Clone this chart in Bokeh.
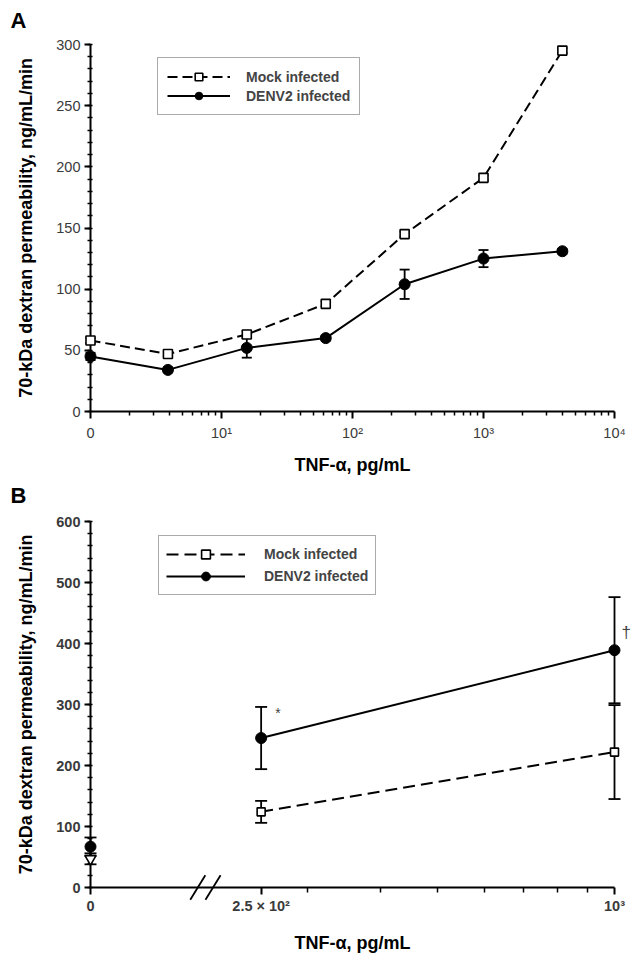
from bokeh.plotting import figure
from bokeh.layouts import column
from bokeh.models import FixedTicker, Legend, LegendItem, Range1d
from bokeh.embed import file_html
from bokeh.resources import INLINE
from bokeh.core.properties import value

# ---------------- Panel A data ----------------
a_dose = [0, 3.9, 15.6, 62.5, 250, 1000, 4000]
a_mock = [58, 47, 63, 88, 145, 191, 295]
a_mock_err = [2, 2, 3, 2, 2, 2, 2]
a_denv = [45, 34, 52, 60, 104, 125, 131]
a_denv_err = [3, 2, 8, 2, 12, 7, 2]
a_xticks = [1, 10, 100, 1000, 10000]
a_xtick_labels = ["0", "10¹", "10²", "10³", "10⁴"]
a_yticks = [0, 50, 100, 150, 200, 250, 300]

# ---------------- Panel B data ----------------
b_dose = [0, 250, 1000]
b_mock = [47, 124, 222]
b_mock_err = [9, 18, 77]
b_denv = [67, 245, 389]
b_denv_err = [15, 51, 87]
b_xtick_labels = ["0", "2.5 × 10²", "10³"]
b_yticks = [0, 100, 200, 300, 400, 500, 600]

# display positions for dose 0 on the log axes (axis is broken / relabelled)
ZERO_A = 1
ZERO_B = 128
B_BREAK = [195, 207]

FONT = "Liberation Sans"


def style(p):
    p.xgrid.visible = False
    p.ygrid.visible = False
    p.outline_line_color = None
    p.background_fill_color = "white"
    p.border_fill_color = "white"
    for ax in p.axis:
        ax.axis_line_width = 2
        ax.axis_line_color = "black"
        ax.major_tick_line_width = 2
        ax.minor_tick_line_width = 1.5
        ax.major_tick_line_color = "black"
        ax.minor_tick_line_color = "black"
        ax.major_label_text_font = FONT
        ax.major_label_text_font_size = "14.5px"
        ax.major_label_text_color = "#3a3a3a"
        ax.axis_label_text_font = FONT
        ax.axis_label_text_font_size = "18px"
        ax.axis_label_text_font_style = "bold"
        ax.axis_label_text_color = "black"


def errbars(p, x, y, e, cap):
    lo = [v - d for v, d in zip(y, e)]
    hi = [v + d for v, d in zip(y, e)]
    p.segment(x0=x, y0=lo, x1=x, y1=hi, line_color="black", line_width=1.8, level="overlay")
    p.scatter(x + x, lo + hi, marker="dash", size=cap, line_color="black", line_width=1.8, level="overlay")


def style_legend(leg, pad, row, gw, standoff):
    leg.padding = pad
    leg.spacing = 0
    leg.margin = 0
    leg.glyph_width = gw
    leg.glyph_height = row
    leg.label_height = row
    leg.label_standoff = standoff
    leg.border_line_color = "#555555"
    leg.border_line_width = 1
    leg.label_text_font = FONT
    leg.label_text_font_style = "bold"
    leg.label_text_font_size = "14px"


# ================= Panel A =================
xa = [ZERO_A if d == 0 else d for d in a_dose]
pa = figure(width=636, height=478, x_axis_type="log",
            x_range=Range1d(ZERO_A, 10000), y_range=Range1d(0, 300),
            output_backend="svg", toolbar_location=None,
            min_border_left=90, min_border_right=22, min_border_top=44, min_border_bottom=67)
style(pa)

ml = pa.line(xa, a_mock, line_color="black", line_width=2, line_dash="10 5")
dl = pa.line(xa, a_denv, line_color="black", line_width=2)
errbars(pa, xa, a_mock, a_mock_err, 10)
errbars(pa, xa, a_denv, a_denv_err, 10)
mp = pa.scatter(xa, a_mock, marker="square", size=9, fill_color="white", line_color="black",
                line_width=1.6, level="overlay")
dp = pa.scatter(xa, a_denv, marker="circle", size=11, fill_color="black", line_color="black",
                level="overlay")

pa.xaxis.ticker = FixedTicker(ticks=a_xticks,
                              minor_ticks=[m * t for t in a_xticks[:-1] for m in range(2, 10)])
pa.xaxis.major_label_overrides = dict(zip(a_xticks, a_xtick_labels))
pa.xaxis.axis_label = "TNF-α, pg/mL"
pa.xaxis.major_tick_out = 7
pa.xaxis.major_tick_in = 0
pa.xaxis.minor_tick_out = 4
pa.xaxis.minor_tick_in = 0
pa.xaxis.major_label_standoff = 6
pa.xaxis.axis_label_standoff = 11

pa.yaxis.ticker = FixedTicker(ticks=a_yticks, minor_ticks=list(range(0, 301, 10)))
pa.yaxis.axis_label = "70-kDa dextran permeability, ng/mL/min"
pa.yaxis.major_tick_out = 6
pa.yaxis.major_tick_in = 0
pa.yaxis.minor_tick_out = 3
pa.yaxis.minor_tick_in = 2
pa.yaxis.major_label_standoff = 4
pa.yaxis.axis_label_standoff = 17

leg_a = Legend(items=[LegendItem(label="Mock infected", renderers=[ml, mp]),
                      LegendItem(label="DENV2 infected", renderers=[dl, dp])],
               location=(67, 296), orientation="vertical")
style_legend(leg_a, 9, 19, 63, 16)
pa.add_layout(leg_a)

pa.text(x=[ZERO_A], y=[a_yticks[-1]], text=["A"], x_offset=-80, y_offset=-24,
        text_font=value(FONT), text_font_style="bold", text_font_size="22px",
        text_align="left", text_baseline="middle", text_color="black", level="overlay")

# ================= Panel B =================
xb = [ZERO_B if d == 0 else d for d in b_dose]
pb = figure(width=636, height=477, x_axis_type="log",
            x_range=Range1d(ZERO_B, 1000), y_range=Range1d(0, 600),
            output_backend="svg", toolbar_location=None,
            min_border_left=90, min_border_right=22, min_border_top=43, min_border_bottom=67)
style(pb)

mlb = pb.line(xb[1:], b_mock[1:], line_color="black", line_width=2, line_dash="12 6")
dlb = pb.line(xb[1:], b_denv[1:], line_color="black", line_width=2)
errbars(pb, xb, b_mock, b_mock_err, 12)
errbars(pb, xb, b_denv, b_denv_err, 12)
mpb = pb.scatter(xb[1:], b_mock[1:], marker="square", size=8, fill_color="white", line_color="black",
                 line_width=1.6, level="overlay")
pb.scatter(xb[:1], b_mock[:1], marker="inverted_triangle", size=11, fill_color="white",
           line_color="black", line_width=1.6, level="overlay")
dpb = pb.scatter(xb, b_denv, marker="circle", size=11, fill_color="black", line_color="black",
                 level="overlay")

pb.segment(x0=[b / 1.03 for b in B_BREAK], y0=-20, x1=[b * 1.03 for b in B_BREAK], y1=20,
           line_color="black", line_width=1.8, level="overlay")

pb.xaxis.ticker = FixedTicker(ticks=xb, minor_ticks=[300, 400, 500, 600, 700, 800, 900])
pb.xaxis.major_label_overrides = dict(zip(xb, b_xtick_labels))
pb.xaxis.axis_label = "TNF-α, pg/mL"
pb.xaxis.major_tick_out = 7
pb.xaxis.major_tick_in = 0
pb.xaxis.minor_tick_out = 5
pb.xaxis.minor_tick_in = 0
pb.xaxis.major_label_standoff = 3
pb.xaxis.axis_label_standoff = 16
pb.xaxis.major_label_text_font_style = "bold"

pb.yaxis.ticker = FixedTicker(ticks=b_yticks, minor_ticks=list(range(0, 601, 20)))
pb.yaxis.axis_label = "70-kDa dextran permeability, ng/mL/min"
pb.yaxis.major_tick_out = 6
pb.yaxis.major_tick_in = 0
pb.yaxis.minor_tick_out = 3
pb.yaxis.minor_tick_in = 2
pb.yaxis.major_label_standoff = 4
pb.yaxis.axis_label_standoff = 17
pb.yaxis.major_label_text_font_style = "bold"

leg_b = Legend(items=[LegendItem(label="Mock infected", renderers=[mlb, mpb]),
                      LegendItem(label="DENV2 infected", renderers=[dlb, dpb])],
               location=(68, 292), orientation="vertical")
style_legend(leg_b, 7, 22, 79, 19)
pb.add_layout(leg_b)

pb.text(x=[ZERO_B], y=[b_yticks[-1]], text=["B"], x_offset=-80, y_offset=-26,
        text_font=value(FONT), text_font_style="bold", text_font_size="22px",
        text_align="left", text_baseline="middle", text_color="black", level="overlay")

pb.text(x=[xb[1]], y=[b_denv[1] + b_denv_err[1]], text=["*"], x_offset=14, y_offset=6,
        text_font=value(FONT), text_font_size="14px", text_color="#444444",
        text_baseline="middle", level="overlay")
pb.text(x=[xb[2]], y=[b_denv[2]], text=["†"], x_offset=7, y_offset=-18,
        text_font=value(FONT), text_font_size="17px", text_color="#444444",
        text_baseline="middle", level="overlay")

layout = column(pa, pb)
open("out.html", "w").write(file_html(layout, INLINE))
